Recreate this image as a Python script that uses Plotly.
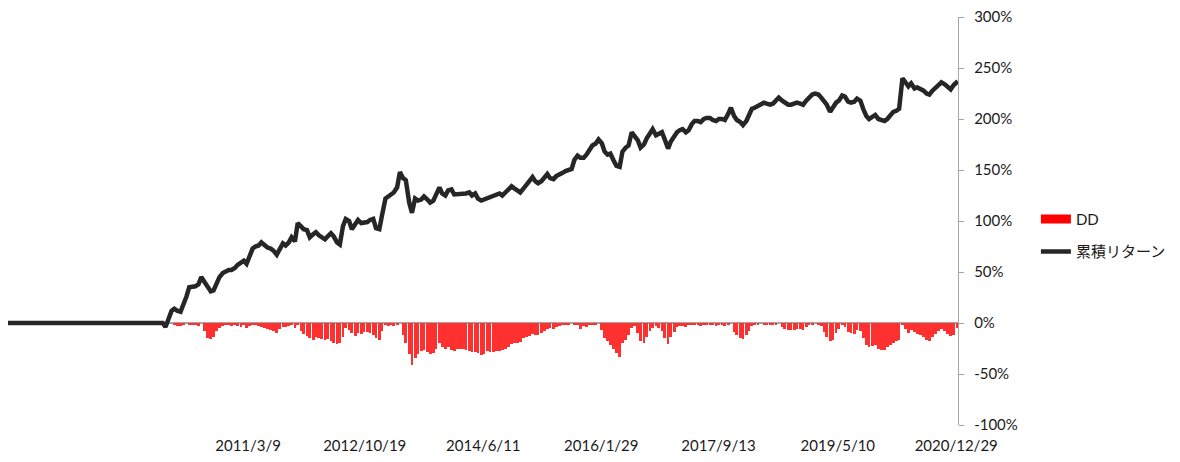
import pandas as pd
import plotly.graph_objects as go

# ---------------- data ----------------
pre_launch_start = "2007-11-10"   # flat period before the strategy starts
series_end = "2021-01-06"
# semi-monthly observation dates (1st and 15th of each month), 2010-01 .. 2020-12
obs_dates = pd.date_range("2010-01-01", "2020-12-15", freq="SMS")

# cumulative return (%) at each observation date
cum_return = [
    # 2010
    0, -4, 6, 12, 14, 12, 11, 17, 26, 35, 35, 36, 38, 45, 40, 35, 31, 32, 39, 45, 49, 51, 52, 52,
    # 2011
    54, 57, 59, 61, 58, 66, 73, 75, 76, 79, 76, 74, 73, 71, 67, 72, 78, 76, 79, 84, 80, 98, 95, 92,
    # 2012
    91, 84, 87, 89, 86, 84, 82, 85, 88, 85, 79, 77, 95, 102, 100, 92, 97, 101, 98, 98, 99, 101, 102, 93,
    # 2013
    92, 106, 122, 124, 126, 128, 133, 148, 142, 140, 118, 108, 122, 120, 121, 124, 121, 118, 120, 127, 133, 127, 125, 130,
    # 2014
    131, 126, 126, 127, 126, 127, 128, 125, 127, 122, 120, 121, 122, 123, 124, 126, 127, 125, 128, 132, 134, 132, 130, 128,
    # 2015
    132, 136, 140, 143, 139, 137, 139, 142, 146, 142, 141, 144, 145, 147, 149, 150, 151, 160, 164, 162, 162, 165, 171, 174,
    # 2016
    176, 180, 176, 168, 165, 166, 159, 154, 153, 168, 172, 174, 187, 183, 179, 172, 175, 181, 186, 190, 184, 186, 187, 180,
    # 2017
    171, 178, 183, 187, 189, 190, 187, 189, 195, 198, 198, 197, 200, 201, 201, 199, 198, 200, 200, 199, 205, 211, 203, 199,
    # 2018
    197, 194, 198, 203, 210, 211, 213, 215, 216, 215, 214, 215, 219, 221, 218, 216, 214, 214, 215, 216, 215, 214, 218, 221,
    # 2019
    224, 225, 224, 221, 217, 214, 207, 211, 216, 218, 223, 222, 217, 216, 217, 220, 218, 210, 203, 200, 203, 204, 200, 199,
    # 2020
    198, 200, 204, 207, 208, 210, 240, 236, 232, 235, 230, 231, 230, 228, 225, 224, 228, 231, 234, 236, 234, 231, 229, 233,
]
cum_return_end = 237

# drawdown (%) at each observation date
drawdown = [
    # 2010
    0, -1, 0, 0, -1, -3, -3, -1, 0, -1, -2, -2, -3, 0, -8, -15, -16, -14, -8, -5, -3, -1, -2, -3,
    # 2011
    -2, -3, -4, -2, -5, -3, -2, -1, -3, -4, -5, -6, -7, -8, -10, -6, -4, -4, -3, -2, -5, -2, -8, -11,
    # 2012
    -13, -15, -17, -14, -15, -16, -17, -16, -18, -20, -21, -20, -14, -5, -7, -10, -13, -10, -11, -9, -9, -10, -12, -15,
    # 2013
    -17, -8, -2, -3, -2, -3, -1, 0, -12, -20, -30, -41, -34, -30, -27, -26, -28, -30, -29, -25, -20, -24, -25, -24,
    # 2014
    -26, -27, -25, -25, -25, -26, -27, -28, -28, -29, -31, -30, -27, -28, -28, -27, -27, -26, -25, -24, -21, -20, -20, -19,
    # 2015
    -15, -14, -13, -11, -12, -12, -10, -8, -6, -5, -6, -4, -3, -2, -1, -1, 0, -1, -2, -6, -3, -4, -1, -1,
    # 2016
    -2, 0, -7, -15, -18, -22, -25, -29, -33, -20, -17, -12, -5, -3, -10, -18, -20, -14, -8, -5, -3, -5, -8, -15,
    # 2017
    -21, -14, -9, -4, -3, -3, -4, -2, -2, -1, -2, -3, -1, -2, -1, -2, -3, -2, -1, -3, -1, 0, -9, -12,
    # 2018
    -15, -16, -12, -8, -3, -1, -1, 0, -1, -1, -2, -1, -1, 0, -4, -6, -7, -7, -7, -6, -6, -7, -4, -2,
    # 2019
    -1, 0, -1, -3, -9, -14, -18, -17, -10, -6, -2, -4, -9, -10, -11, -7, -8, -15, -22, -24, -23, -22, -25, -26,
    # 2020
    -26, -24, -22, -20, -18, -17, -1, -6, -10, -7, -9, -11, -12, -14, -17, -18, -14, -11, -8, -6, -8, -11, -13, -12,
]
drawdown_end = -5

tick_dates = ["2011-03-09", "2012-10-19", "2014-06-11", "2016-01-29",
              "2017-09-13", "2019-05-10", "2020-12-29"]
tick_labels = ["2011/3/9", "2012/10/19", "2014/6/11", "2016/1/29",
               "2017/9/13", "2019/5/10", "2020/12/29"]
y_ticks = [-100, -50, 0, 50, 100, 150, 200, 250, 300]
y_tick_labels = ["-100%", "-50%", "0%", "50%", "100%", "150%", "200%", "250%", "300%"]

# ---------------- figure ----------------
obs = [d.strftime("%Y-%m-%d") for d in obs_dates]
line_x = [pre_launch_start] + obs + [series_end]
line_y = [0] + cum_return + [cum_return_end]
dd_x = obs + [series_end]
dd_y = drawdown + [drawdown_end]

FONT = "Lato, 'Noto Sans CJK JP', sans-serif"

fig = go.Figure()
fig.add_trace(go.Bar(
    x=dd_x, y=dd_y, name="DD", showlegend=False,
    marker=dict(color="#FF3030", line=dict(width=0)),
))
# legend entry for DD (wide red swatch, as in the reference)
fig.add_trace(go.Scatter(
    x=[None], y=[None], mode="lines", name="DD", legendgroup="dd",
    line=dict(color="#FF0000", width=9),
))
fig.add_trace(go.Scatter(
    x=line_x, y=line_y, mode="lines", name="累積リターン", legendgroup="cum",
    line=dict(color="#262626", width=4.5),
))

fig.update_layout(
    width=1180, height=462,
    margin=dict(l=8, r=222, t=17, b=37),
    paper_bgcolor="white", plot_bgcolor="white",
    font=dict(family=FONT, size=15, color="#1a1a1a"),
    bargap=0,
    showlegend=True,
    legend=dict(
        x=1.082, y=0.545, xanchor="left", yanchor="top",
        font=dict(family=FONT, size=15, color="#1a1a1a"),
        tracegroupgap=10, bgcolor="rgba(0,0,0,0)",
    ),
    xaxis=dict(
        type="date", automargin=False,
        range=[pre_launch_start, "2021-01-07"],
        tickvals=tick_dates, ticktext=tick_labels,
        showgrid=False, zeroline=False, showline=False,
        ticks="outside", ticklen=7, tickcolor="rgba(0,0,0,0)",
        tickfont=dict(size=15, color="#1a1a1a"),
    ),
    yaxis=dict(
        side="right", range=[-100, 300], automargin=False,
        tickvals=y_ticks, ticktext=y_tick_labels,
        showgrid=False,
        showline=True, linecolor="#A6A6A6", linewidth=1.3,
        ticks="outside", ticklen=5, tickcolor="#A6A6A6", tickwidth=1.3,
        ticklabelstandoff=7,
        zeroline=True, zerolinecolor="#A6A6A6", zerolinewidth=1.5,
        tickfont=dict(size=15, color="#1a1a1a"),
    ),
)

fig.write_html(
    "out.html",
    config={"displayModeBar": False},
    post_script="document.body.style.margin='0';document.body.style.overflow='hidden';",
)
